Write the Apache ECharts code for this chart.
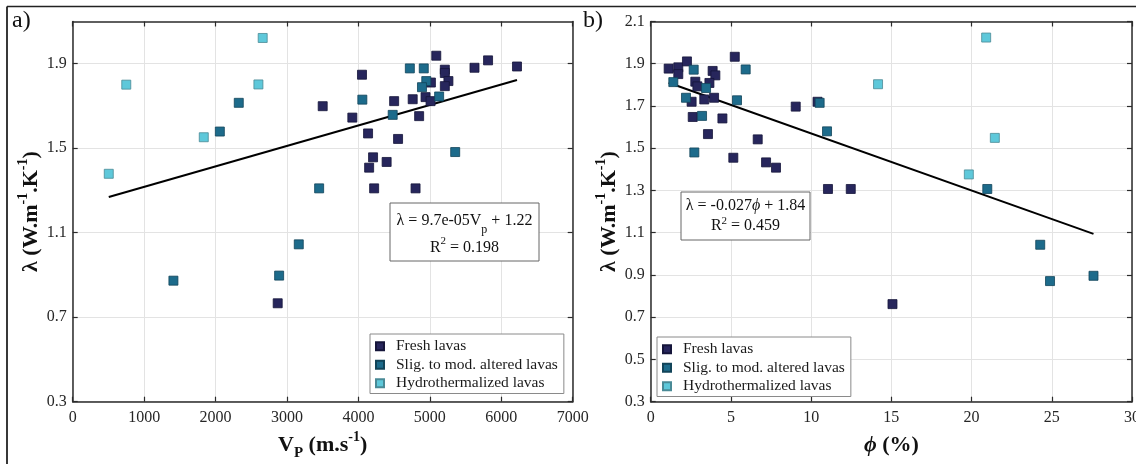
<!DOCTYPE html>
<html>
<head>
<meta charset="utf-8">
<script src="https://cdn.jsdelivr.net/npm/echarts@6/dist/echarts.min.js"></script>
<style>
html,body{margin:0;padding:0;background:#fff;}
#chart{width:1136px;height:464px;}
</style>
</head>
<body>
<div id="chart"></div>
<script>
// ---------- data ----------
const seriesNames = ['Fresh lavas', 'Slig. to mod. altered lavas', 'Hydrothermalized lavas'];

// Panel a: Vp (m/s) vs lambda
const aFreshVp = [5090, 5815, 6220, 5625, 4050, 5210, 5210, 5260, 5210, 5015, 3500, 4760, 4940, 4500, 5010, 3915, 4850, 4135, 4555, 4205, 4395, 4150, 4220, 4800, 2870];
const aFreshLambda = [1.938, 1.916, 1.887, 1.881, 1.848, 1.872, 1.856, 1.818, 1.794, 1.811, 1.699, 1.732, 1.742, 1.723, 1.723, 1.645, 1.652, 1.570, 1.544, 1.457, 1.435, 1.408, 1.310, 1.310, 0.766];
const aAltVp = [2325, 2060, 3450, 4055, 4720, 4915, 4950, 4890, 5130, 4480, 5355, 3165, 2890, 1410];
const aAltLambda = [1.715, 1.579, 1.310, 1.730, 1.878, 1.878, 1.818, 1.789, 1.745, 1.658, 1.482, 1.045, 0.897, 0.873];
const aHydVp = [2660, 750, 2600, 1835, 505];
const aHydLambda = [2.022, 1.801, 1.802, 1.552, 1.379];

// Panel b: porosity (%) vs lambda
const bFreshPhi = [1.12, 1.72, 1.72, 2.26, 2.78, 2.91, 3.86, 4.03, 3.66, 2.55, 3.34, 3.95, 2.62, 4.47, 3.57, 5.24, 5.15, 6.67, 7.19, 7.81, 9.04, 10.4, 11.05, 12.47, 15.07];
const bFreshLambda = [1.877, 1.883, 1.851, 1.911, 1.815, 1.793, 1.866, 1.845, 1.809, 1.720, 1.731, 1.739, 1.648, 1.641, 1.567, 1.933, 1.455, 1.542, 1.433, 1.408, 1.697, 1.720, 1.307, 1.307, 0.762];
const bAltPhi = [1.41, 2.68, 2.20, 3.45, 3.20, 2.72, 5.38, 5.92, 10.53, 10.99, 20.98, 24.28, 24.89, 27.6];
const bAltLambda = [1.813, 1.872, 1.739, 1.785, 1.653, 1.480, 1.727, 1.873, 1.715, 1.580, 1.307, 1.043, 0.871, 0.896];
const bHydPhi = [20.91, 14.17, 21.45, 19.83];
const bHydLambda = [2.024, 1.803, 1.549, 1.376];

// fits shown on the figure
const aFit = {slope: 9.7e-05, intercept: 1.22};
const bFit = {slope: -0.027, intercept: 1.84};

// axes ticks
const aXTicks = [0, 1000, 2000, 3000, 4000, 5000, 6000, 7000];
const aYTicks = [0.3, 0.7, 1.1, 1.5, 1.9];
const bXTicks = [0, 5, 10, 15, 20, 25, 30];
const bYTicks = [0.3, 0.5, 0.7, 0.9, 1.1, 1.3, 1.5, 1.7, 1.9, 2.1];

// ---------- helpers ----------
const zip = (xs, ys) => xs.map((x, i) => [x, ys[i]]);
const fitLine = (xs, fit) => {
  const lo = Math.min(...xs), hi = Math.max(...xs);
  return [[lo, fit.slope * lo + fit.intercept], [hi, fit.slope * hi + fit.intercept]];
};
const FONT = 'Liberation Serif';
const AXC = '#2b2b2b';
const colors = ['#27265c', '#1d6b8b', '#5ec8da'];
const borders = ['#15153a', '#124459', '#4a8a96'];

const nameRich = {
  b: {fontFamily: FONT, fontSize: 22, fontWeight: 'bold', color: '#111', lineHeight: 30},
  bi: {fontFamily: FONT, fontSize: 22, fontWeight: 'bold', fontStyle: 'italic', color: '#111', lineHeight: 30},
  sup: {fontFamily: FONT, fontSize: 14, fontWeight: 'bold', color: '#111', lineHeight: 14, verticalAlign: 'top'},
  sub: {fontFamily: FONT, fontSize: 15, fontWeight: 'bold', color: '#111', lineHeight: 15, verticalAlign: 'bottom'}
};

function xAxisPair(gi, ticks, min, max, interval, name) {
  return [{
    gridIndex: gi, type: 'value', min, max, interval, position: 'bottom',
    name, nameLocation: 'middle', nameGap: 29, nameTextStyle: {rich: nameRich},
    axisLine: {show: true, onZero: false, lineStyle: {color: AXC, width: 1.5}},
    axisTick: {show: true, inside: true, length: 5, lineStyle: {color: AXC, width: 1.2}},
    axisLabel: {show: true, margin: 8, fontFamily: FONT, fontSize: 16, color: '#262626', showMinLabel: true, showMaxLabel: true,
      formatter: v => String(v)},
    splitLine: {show: true, lineStyle: {color: '#e3e3e3', width: 1}}
  }, {
    gridIndex: gi, type: 'value', min, max, interval, position: 'top',
    axisLine: {show: true, onZero: false, lineStyle: {color: AXC, width: 1.5}},
    axisTick: {show: true, inside: true, length: 5, lineStyle: {color: AXC, width: 1.2}},
    axisLabel: {show: false}, splitLine: {show: false}
  }];
}
function yAxisPair(gi, ticks, name) {
  return [{
    gridIndex: gi, type: 'value', min: 0.3, max: 2.1, position: 'left',
    name, nameLocation: 'middle', nameGap: 25, nameRotate: 90, nameTextStyle: {rich: nameRich},
    axisLine: {show: true, onZero: false, lineStyle: {color: AXC, width: 1.5}},
    axisTick: {show: true, inside: true, length: 5, customValues: ticks, lineStyle: {color: AXC, width: 1.2}},
    axisLabel: {show: true, margin: 6, customValues: ticks, fontFamily: FONT, fontSize: 16, color: '#262626',
      formatter: v => v.toFixed(1)},
    splitLine: {show: true, customValues: ticks, lineStyle: {color: '#e3e3e3', width: 1}}
  }, {
    gridIndex: gi, type: 'value', min: 0.3, max: 2.1, position: 'right',
    axisLine: {show: true, onZero: false, lineStyle: {color: AXC, width: 1.5}},
    axisTick: {show: true, inside: true, length: 5, customValues: ticks, lineStyle: {color: AXC, width: 1.2}},
    axisLabel: {show: false}, splitLine: {show: false}
  }];
}

function scatter(name, k, xi, yi, data) {
  return {
    type: 'scatter', name, xAxisIndex: xi, yAxisIndex: yi, data,
    symbol: 'rect', symbolSize: 9,
    itemStyle: {color: colors[k], borderColor: borders[k], borderWidth: 0.8, opacity: 1},
    emphasis: {disabled: true}, z: 3
  };
}
function fit(xi, yi, data) {
  return {
    type: 'line', xAxisIndex: xi, yAxisIndex: yi, data, symbol: 'none',
    lineStyle: {color: '#000', width: 2}, silent: true, z: 2
  };
}

const legendCommon = {
  orient: 'vertical', data: seriesNames, icon: 'rect', itemWidth: 8, itemHeight: 8, itemGap: 2,
  padding: [4, 6, 2, 5], backgroundColor: '#fff', borderColor: '#8a8a8a', borderWidth: 1, borderRadius: 0,
  textStyle: {fontFamily: FONT, fontSize: 15.5, color: '#1a1a1a', lineHeight: 16.5, padding: [0, 0, 0, 7]},
  selectedMode: false
};

const option = {
  backgroundColor: '#fff',
  animation: false,
  grid: [
    {left: 72.7, top: 21.5, width: 500, height: 380.2, containLabel: false, outerBoundsMode: 'none'},
    {left: 650.7, top: 21.5, width: 481.3, height: 380.2, containLabel: false, outerBoundsMode: 'none'}
  ],
  xAxis: [
    ...xAxisPair(0, aXTicks, 0, 7000, 1000, '{b|V}{sub|P}{b| (m.s}{sup|-1}{b|)}'),
    ...xAxisPair(1, bXTicks, 0, 30, 5, '{bi|ϕ}{b| (%)}')
  ],
  yAxis: [
    ...yAxisPair(0, aYTicks, '{b|λ (W.m}{sup|-1}{b|.K}{sup|-1}{b|)}'),
    ...yAxisPair(1, bYTicks, '{b|λ (W.m}{sup|-1}{b|.K}{sup|-1}{b|)}')
  ],
  legend: [
    Object.assign({left: 370, top: 334}, legendCommon),
    Object.assign({left: 657, top: 337}, legendCommon)
  ],
  series: [
    scatter(seriesNames[0], 0, 0, 0, zip(aFreshVp, aFreshLambda)),
    scatter(seriesNames[1], 1, 0, 0, zip(aAltVp, aAltLambda)),
    scatter(seriesNames[2], 2, 0, 0, zip(aHydVp, aHydLambda)),
    fit(0, 0, fitLine([...aFreshVp, ...aAltVp, ...aHydVp], aFit)),
    scatter(seriesNames[0], 0, 2, 2, zip(bFreshPhi, bFreshLambda)),
    scatter(seriesNames[1], 1, 2, 2, zip(bAltPhi, bAltLambda)),
    scatter(seriesNames[2], 2, 2, 2, zip(bHydPhi, bHydLambda)),
    fit(2, 2, fitLine([...bFreshPhi, ...bAltPhi, ...bHydPhi], bFit))
  ],
  graphic: [
    {type: 'line', shape: {x1: 7, y1: 6.5, x2: 1136, y2: 6.5}, style: {stroke: '#222', lineWidth: 1.5}, silent: true},
    {type: 'line', shape: {x1: 7, y1: 6.5, x2: 7, y2: 464}, style: {stroke: '#222', lineWidth: 1.8}, silent: true},
    {type: 'text', left: 12, top: 9, style: {text: 'a)', font: '24px "Liberation Serif"', fill: '#111'}, silent: true},
    {type: 'text', left: 583, top: 9, style: {text: 'b)', font: '24px "Liberation Serif"', fill: '#111'}, silent: true},
    {type: 'rect', shape: {x: 390, y: 203, width: 149, height: 58}, style: {fill: '#fff', stroke: '#666', lineWidth: 1}, z: 10, silent: true},
    {type: 'text', x: 464.5, y: 232, z: 11, silent: true,
      style: {
        text: '{t|λ = 9.7e-05V}{s|p}{t| + 1.22}\n{t|R}{u|2}{t| = 0.198}',
        align: 'center', verticalAlign: 'middle', fill: '#111',
        rich: {
          t: {fontFamily: FONT, fontSize: 16, fill: '#111', lineHeight: 23},
          s: {fontFamily: FONT, fontSize: 12, fill: '#111', lineHeight: 31, verticalAlign: 'bottom'},
          u: {fontFamily: FONT, fontSize: 11, fill: '#111', lineHeight: 11, verticalAlign: 'top'}
        }
      }},
    {type: 'rect', shape: {x: 681, y: 192, width: 129, height: 48}, style: {fill: '#fff', stroke: '#666', lineWidth: 1}, z: 10, silent: true},
    {type: 'text', x: 745.5, y: 216, z: 11, silent: true,
      style: {
        text: '{t|λ = -0.027}{i|ϕ}{t| + 1.84}\n{t|R}{u|2}{t| = 0.459}',
        align: 'center', verticalAlign: 'middle', fill: '#111',
        rich: {
          t: {fontFamily: FONT, fontSize: 16, fill: '#111', lineHeight: 20},
          i: {fontFamily: FONT, fontSize: 16, fontStyle: 'italic', fill: '#111', lineHeight: 20},
          u: {fontFamily: FONT, fontSize: 11, fill: '#111', lineHeight: 11, verticalAlign: 'top'}
        }
      }}
  ]
};

const chart = echarts.init(document.getElementById('chart'), null, {renderer: 'canvas'});
chart.setOption(option);
</script>
</body>
</html>
